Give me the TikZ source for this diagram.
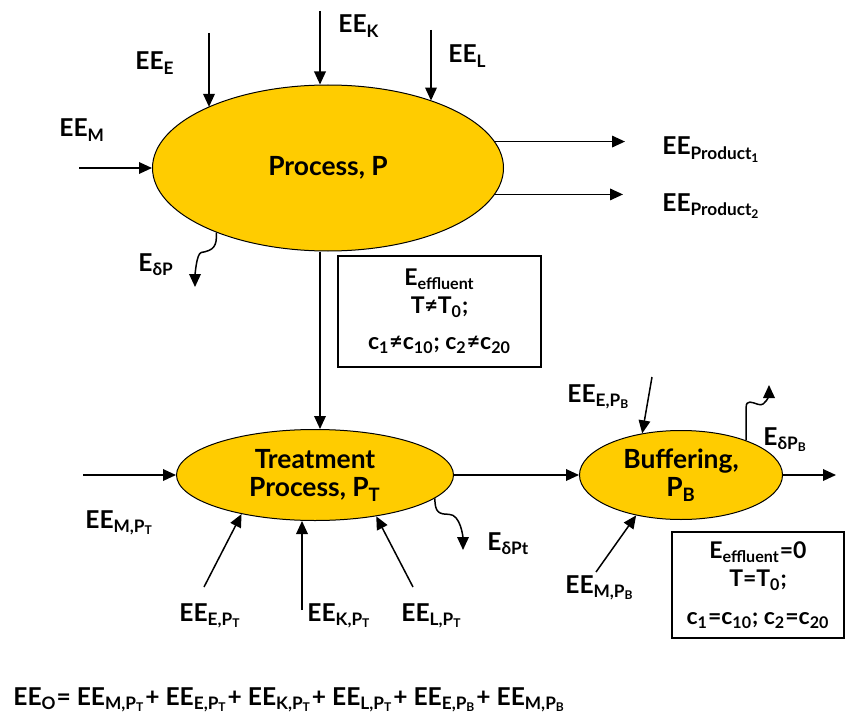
\documentclass[tikz,border=0pt]{standalone}
\usepackage{fontspec}
\setmainfont{Lato}
\usetikzlibrary{shapes.geometric,arrows.meta}
\definecolor{Gold}{HTML}{FFCC00}
\newcommand{\sbs}[1]{\textsubscript{#1}}

\begin{document}
\begin{tikzpicture}[x=0.5pt,y=-0.5pt,
    proc/.style={ellipse,draw,fill=Gold,line width=0.5pt,inner sep=0pt,
                 font=\bfseries\fontsize{13.2}{14}\selectfont,align=center},
    arr/.style={-{Triangle[length=6.5pt,width=5.8pt]},line width=0.75pt},
    lbl/.style={anchor=base west,inner sep=0pt,
                font=\bfseries\fontsize{12.3}{14}\selectfont},
    note/.style={draw,line width=0.75pt,inner sep=0pt,align=center,
                 font=\bfseries\fontsize{11.5}{14}\selectfont}
  ]
  \useasboundingbox (0,0) rectangle (846,722);
  \node[proc,minimum width=175.5pt,minimum height=83pt] (P) at (328,168) {Process, P};
  \node[proc,minimum width=138.5pt,minimum height=45.5pt] (T) at (315,475) {Treatment\\Process, P\sbs{T}};
  \node[proc,minimum width=101.5pt,minimum height=44.5pt] (B) at (681,475) {Buffering,\\P\sbs{B}};

  \node[note,minimum width=101.5pt,minimum height=55.5pt] (eff1) at (439.5,311.5)
    {E\sbs{effluent}\\T≠T\sbs{0};\\[4pt]c\sbs{1}≠c\sbs{10}; c\sbs{2}≠c\sbs{20}};
  \node[note,minimum width=86pt,minimum height=53pt] (eff2) at (758,585)
    {E\sbs{effluent}=0\\T=T\sbs{0};\\[5pt]c\sbs{1}=c\sbs{10}; c\sbs{2}=c\sbs{20}};

  \coordinate (kP) at (320,11);
  \coordinate (eP) at (209,33);
  \coordinate (lP) at (431,30);
  \coordinate (mP) at (79,168);
  \coordinate (pr1) at (625,141);
  \coordinate (pr2) at (623,196);
  \coordinate (dP) at (195,287);
  \coordinate (mT) at (83,475);
  \coordinate (eT) at (204,587);
  \coordinate (kT) at (302,610);
  \coordinate (lT) at (413,587);
  \coordinate (dT) at (463,550);
  \coordinate (eB) at (652,377);
  \coordinate (mB) at (596,572);
  \coordinate (dB) at (769,385);
  \coordinate (out) at (836,475);

  \draw[arr] (kP) -- (kP |- P.north);
  \draw[arr] (eP) -- (eP |- P.153);
  \draw[arr] (lP) -- (lP |- P.33);
  \draw[arr] (mP) -- (P.west);
  \draw[arr] (P.9) -- (P.9 -| pr1);
  \draw[arr] (P.351) -- (P.351 -| pr2);
  \draw[arr] (P.210) .. controls +(1,14) and +(12,-2) .. ++(-15,20)
                     .. controls +(-5,1) and +(0,-10) .. (dP);
  \draw[arr] (P.south -| kP) -- (T.north -| kP);

  \draw[arr] (mT) -- (T.west);
  \draw[arr] (eT) -- (T.208);
  \draw[arr] (kT) -- (kT |- T.south);
  \draw[arr] (lT) -- (T.326);
  \draw[arr] (T.349) .. controls +(0,14) and +(-10,0) .. ++(14,16)
                     .. controls +(12,0) and +(0,-12) .. (dT);
  \draw[arr] (T.east) -- (B.west);

  \draw[arr] (eB) -- (B.133);
  \draw[arr] (mB) -- (B.222);
  \draw[arr] (B.28) -- ++(0,-33) .. controls +(0,-8) and +(-6,-2) .. ++(12,-3)
                     .. controls +(8,3) and +(0,8) .. (dB);
  \draw[arr] (B.east) -- (out);

  \node[lbl] (lK) at (338,33) {EE\sbs{K}};
  \node[lbl] (lE) at (135,70) {EE\sbs{E}};
  \node[lbl] (lL) at (448,63) {EE\sbs{L}};
  \node[lbl] (lM) at (59,137) {EE\sbs{M}};
  \node[lbl] (lpr1) at (662,155) {EE\sbs{Product\sbs{1}}};
  \node[lbl] (lpr2) at (662,211) {EE\sbs{Product\sbs{2}}};
  \node[lbl] (ldP) at (138,271) {E\sbs{δP}};
  \node[lbl] (lMT) at (85,528) {EE\sbs{M,P\sbs{T}}};
  \node[lbl] (lET) at (179,621) {EE\sbs{E,P\sbs{T}}};
  \node[lbl] (lKT) at (307,621) {EE\sbs{K,P\sbs{T}}};
  \node[lbl] (lLT) at (401,621) {EE\sbs{L,P\sbs{T}}};
  \node[lbl] (ldT) at (487,550) {E\sbs{δPt}};
  \node[lbl] (lEB) at (567,402) {EE\sbs{E,P\sbs{B}}};
  \node[lbl] (lMB) at (565,593) {EE\sbs{M,P\sbs{B}}};
  \node[lbl] (ldB) at (763,445) {E\sbs{δP\sbs{B}}};
  \node[lbl] (eq) at (13,705) {EE\sbs{O}= EE\sbs{M,P\sbs{T}}+ EE\sbs{E,P\sbs{T}}+ EE\sbs{K,P\sbs{T}}+ EE\sbs{L,P\sbs{T}}+ EE\sbs{E,P\sbs{B}}+ EE\sbs{M,P\sbs{B}}};
\end{tikzpicture}
\end{document}
